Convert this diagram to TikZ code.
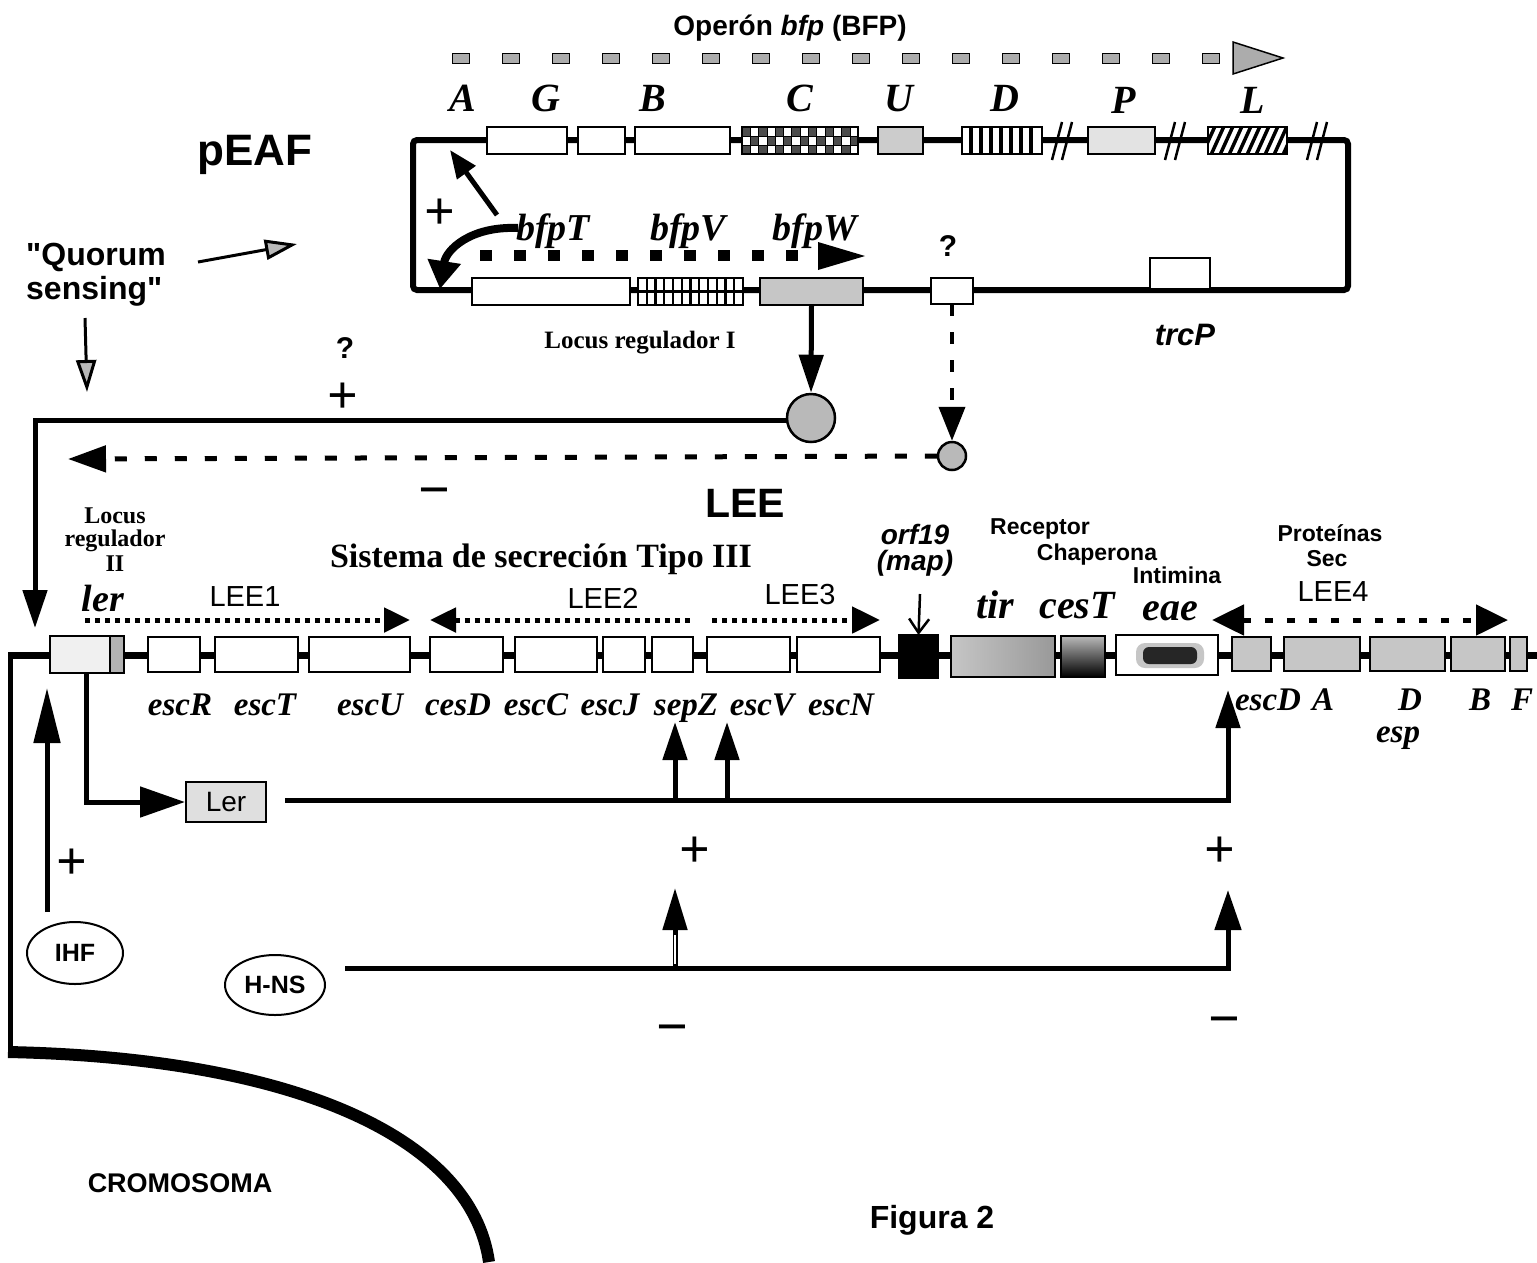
\documentclass[tikz,border=0pt]{standalone}
\usepackage{fontspec}
\setmainfont{Liberation Serif}
\setsansfont{Liberation Sans}
\usetikzlibrary{arrows.meta,shapes.geometric}
\newcommand{\myfs}[1]{\fontsize{#1}{#1}\selectfont}
\newcommand{\gbx}[6]{\node[gbox,#6,minimum width={(#3-#2)*1pt},minimum height={(#5-#4)*1pt}] (#1) at ({(#2+#3)/2},{(#4+#5)/2}) {};}
\tikzset{
  gbox/.style={draw, line width=2.5pt, fill=white, inner sep=0pt, outer sep=0pt},
  bh/.style={-{Triangle[length=38pt,width=24pt]}},
  gtop/.style={font=\myfs{40}\bfseries\itshape, inner sep=0pt, anchor=base},
  gbfp/.style={font=\myfs{38}\bfseries\itshape, inner sep=0pt, anchor=base},
  glow/.style={font=\myfs{33}\bfseries\itshape, inner sep=0pt, anchor=base},
  sblab/.style={font=\sffamily\bfseries\myfs{#1}, inner sep=0pt, anchor=base},
  srlab/.style={font=\sffamily\myfs{#1}, inner sep=0pt, anchor=base},
  rblab/.style={font=\bfseries\myfs{#1}, inner sep=0pt, anchor=base},
  plus/.style={font=\bfseries\myfs{54}, inner sep=0pt},
  minus/.style={font=\bfseries\myfs{56}, inner sep=0pt},
  dotln/.style={line width=5pt, dash pattern=on 5pt off 5pt},
  qh/.style={-{Triangle[length=32pt,width=20pt,fill=gray!55]}},
  regln/.style={line width=5pt},
}
\begin{document}
\begin{tikzpicture}[x=1pt,y=-1pt]
\useasboundingbox (0,0) rectangle (1537,1262);
\fill[white] (0,0) rectangle (1537,1262);

% ---------- title and top operon arrow
\node[sblab=28] (title) at (790,35) {Operón \textit{bfp} (BFP)};
\foreach \i in {0,...,15} \draw[fill=gray!65, line width=1pt] ({452+50*\i},53) rectangle ++(17,10);
\filldraw[fill=gray!65, line width=1.5pt] (1233,42) -- (1283,58) -- (1233,74) -- cycle;

% ---------- top gene letters
\node[gtop] (lA) at (463,111) {A};
\node[gtop] (lG) at (546,111) {G};
\node[gtop] (lB) at (653,111) {B};
\node[gtop] (lC) at (800,111) {C};
\node[gtop] (lU) at (899,111) {U};
\node[gtop] (lD) at (1005,111) {D};
\node[gtop] (lP) at (1124,113) {P};
\node[gtop] (lL) at (1253,113) {L};

% ---------- plasmid pEAF
\draw[line width=6pt, rounded corners=4pt] (413,140) rectangle (1348,290);
\foreach \x in {1060,1173,1315} {
  \draw[line width=2.5pt] (\x-8,160) -- (\x+2,122);
  \draw[line width=2.5pt] (\x+2,160) -- (\x+12,122);
}
\gbx{gA}{487}{567}{127}{154}{}
\gbx{gG}{578}{625}{127}{154}{}
\gbx{gB}{635}{730}{127}{154}{}
\gbx{gC}{742}{858}{127}{154}{}
\gbx{gU}{878}{923}{127}{154}{fill=gray!40}
\gbx{gD}{962}{1042}{127}{154}{}
\gbx{gP}{1088}{1155}{127}{154}{fill=gray!22}
\gbx{gL}{1208}{1287}{127}{154}{}
% checkered C
\begin{scope}
  \clip (gC.south west) rectangle (gC.north east);
  \foreach \j in {0,1,2} \foreach \i in {0,2,...,12}
    \fill[black!70] ({742+8.3*(\i+mod(\j,2))},{127+9*\j}) rectangle ++(8.3,9);
  \foreach \i in {1,...,13} \draw[line width=0.8pt] ({742+8.3*\i},127) -- ++(0,27);
  \draw[line width=0.8pt] (742,136) -- (858,136) (742,145) -- (858,145);
\end{scope}
\draw[line width=2.5pt] (gC.south west) rectangle (gC.north east);
% striped D
\foreach \x in {971,981,...,1035} \draw[line width=4pt] (\x,127) -- (\x,154);
\draw[line width=2.5pt] (gD.south west) rectangle (gD.north east);
% hatched L
\begin{scope}
  \clip (gL.south west) rectangle (gL.north east);
  \foreach \x in {1192,1201,...,1295} \draw[line width=3.5pt] (\x,157) -- (\x+15,124);
\end{scope}
\draw[line width=2.5pt] (gL.south west) rectangle (gL.north east);

% bottom row of the plasmid
\gbx{bT}{472}{630}{278}{305}{}
\gbx{bV}{638}{743}{278}{305}{}
\gbx{bW}{760}{863}{278}{305}{fill=gray!45}
\gbx{qb}{931}{973}{278}{304}{}
\gbx{trc}{1150}{1210}{258}{289}{}
\foreach \i in {1,...,11} \draw[line width=2.2pt] ({638+\i*105/12},278) -- ++(0,27);
\draw[line width=2.2pt] (638,291.5) -- (743,291.5);
\draw[line width=2.5pt] (bV.south west) rectangle (bV.north east);

\node[gbfp] (lbT) at (553,240) {bfpT};
\node[gbfp] (lbV) at (688,240) {bfpV};
\node[gbfp] (lbW) at (815,240) {bfpW};
\foreach \i in {0,...,9} \fill ({480+34*\i},250) rectangle ++(12,11);
\fill (818,242) -- (865,256) -- (818,270) -- cycle;

\node[plus] (p1) at (440,214) {+};
\draw[line width=5pt, -{Triangle[length=28pt,width=22pt]}] (497,215) -- (450,150);
\draw[line width=8pt, -{Triangle[length=28pt,width=32pt]}] (518,228) .. controls (470,226) and (446,250) .. (440,289);

\node[sblab=30] (q1) at (948,256) {?};
\node[rblab=25] (lr1) at (640,348) {Locus regulador I};
\node[font=\sffamily\bfseries\itshape\myfs{31}, inner sep=0pt, anchor=base] (ltrc) at (1185,345) {trcP};

% ---------- left labels
\node[sblab=44] (peaf) at (255,165) {pEAF};
\node[sblab=32, anchor=base west] (qs1) at (26,265) {\textquotedbl Quorum};
\node[sblab=32, anchor=base west] (qs2) at (26,299) {sensing\textquotedbl};
\coordinate (qa1) at (198,262);
\coordinate (qa2) at (297,244);
\coordinate (qb1) at (85,318);
\coordinate (qb2) at (87,392);
\draw[line width=3pt, qh] (qa1) -- (qa2);
\draw[line width=3pt, qh] (qb1) -- (qb2);

% ---------- regulators between plasmid and LEE
\node[circle, draw, line width=2.5pt, fill=gray!55, minimum size=48pt, inner sep=0pt] (bc) at (811,418) {};
\node[circle, draw, line width=2.5pt, fill=gray!55, minimum size=28pt, inner sep=0pt] (sc) at (952,456) {};
\draw[regln, bh] (bW.south) -- (bc.north);
\draw[line width=4pt, dash pattern=on 12pt off 16pt, -{Triangle[length=34pt,width=26pt]}] (qb.south) -- (sc.north);
\coordinate (lc) at (35,420);
\coordinate (lerin) at (35,628);
\draw[regln, bh] (bc.west |- lc) -- (lc) -- (lerin);
\coordinate (dl) at (68,459);
\draw[line width=5pt, dash pattern=on 12pt off 18pt, -{Triangle[length=38pt,width=26pt]}] (sc.west) -- (dl);
\node[sblab=30] (q2) at (345,358) {?};
\node[plus] (p2) at (343,398) {+};
\node[minus] (m1) at (434,498) {−};

\node[sblab=41] (lee) at (745,517) {LEE};

% ---------- chromosome
\draw[line width=7pt] (10,655) -- (1537,655);
\draw[line width=5pt] (10,652) -- (10,1052);
\draw[line width=12pt] (8,1052) .. controls (300,1058) and (472,1140) .. (489,1262);

% ---------- LEE genes
\gbx{ler}{50}{110}{636}{673}{fill=gray!12}
\gbx{lers}{110}{124}{636}{673}{fill=gray!60}
\gbx{escR}{148}{200}{637}{672}{}
\gbx{escT}{215}{298}{637}{672}{}
\gbx{escU}{309}{410}{637}{672}{}
\gbx{cesD}{430}{503}{637}{672}{}
\gbx{escC}{515}{597}{637}{672}{}
\gbx{escJ}{603}{645}{637}{672}{}
\gbx{sepZ}{652}{693}{637}{672}{}
\gbx{escV}{707}{790}{637}{672}{}
\gbx{escN}{797}{880}{637}{672}{}
\gbx{orf}{899}{938}{635}{678}{fill=black}
\gbx{tir}{951}{1055}{636}{677}{}
\gbx{cesT}{1061}{1105}{636}{677}{}
\gbx{eae}{1116}{1218}{635}{675}{}
\gbx{escD}{1232}{1271}{637}{671}{fill=gray!45}
\gbx{espA}{1284}{1360}{637}{671}{fill=gray!45}
\gbx{espD}{1370}{1445}{637}{671}{fill=gray!45}
\gbx{espB}{1451}{1505}{637}{671}{fill=gray!45}
\gbx{espF}{1510}{1527}{637}{671}{fill=gray!45}
\shade[left color=gray!45, middle color=white, right color=gray!80] (tir.south west) rectangle (tir.north east);
\draw[line width=2.5pt] (tir.south west) rectangle (tir.north east);
\shade[top color=gray!55, bottom color=black] (cesT.south west) rectangle (cesT.north east);
\draw[line width=2.5pt] (cesT.south west) rectangle (cesT.north east);
\fill[gray!45, rounded corners=9pt] (1136,643) rectangle (1204,668);
\fill[black!85, rounded corners=6pt] (1143,647) rectangle (1197,664);

% labels above the LEE
\node[rblab=24] (lr2a) at (115,523) {Locus};
\node[rblab=24] (lr2b) at (115,546) {regulador};
\node[rblab=24] (lr2c) at (115,571) {II};
\node[font=\myfs{38}\bfseries\itshape, inner sep=0pt, anchor=base] (lerl) at (103,611) {ler};
\node[rblab=34] (sis) at (541,567) {Sistema de secreción Tipo III};
\node[srlab=29] (lee1) at (245,606) {LEE1};
\node[srlab=29] (lee2) at (603,608) {LEE2};
\node[srlab=29] (lee3) at (800,604) {LEE3};
\node[srlab=29] (lee4) at (1333,601) {LEE4};
\node[font=\sffamily\bfseries\itshape\myfs{28}, inner sep=0pt, anchor=base] (orfl) at (915,544) {orf19};
\node[font=\sffamily\bfseries\itshape\myfs{28}, inner sep=0pt, anchor=base] (mapl) at (915,570) {(map)};
\node[sblab=23] (rec) at (1040,534) {Receptor};
\node[sblab=23] (cha) at (1097,560) {Chaperona};
\node[sblab=23] (inti) at (1177,583) {Intimina};
\node[sblab=23] (prot) at (1330,541) {Proteínas};
\node[sblab=23] (sec) at (1327,566) {Sec};
\node[font=\myfs{40}\bfseries\itshape, inner sep=0pt, anchor=base] (ltir) at (995,618) {tir};
\node[font=\myfs{40}\bfseries\itshape, inner sep=0pt, anchor=base] (lcesT) at (1077,618) {cesT};
\node[font=\myfs{40}\bfseries\itshape, inner sep=0pt, anchor=base] (leae) at (1170,620) {eae};

\draw[dotln, -{Triangle[length=26pt,width=24pt]}] (85,620) -- (410,620);
\draw[dotln, {Triangle[length=26pt,width=24pt]}-] (430,620) -- (690,620);
\draw[dotln, -{Triangle[length=28pt,width=26pt]}] (712,620) -- (880,620);
\draw[line width=5pt, dash pattern=on 8pt off 14pt, {Triangle[length=32pt,width=30pt]}-{Triangle[length=32pt,width=30pt]}] (1212,620) -- (1508,620);
\draw[line width=2.5pt, -{Straight Barb[length=14pt,width=20pt]}] (920,594) -- (orf.north);

% labels below the LEE
\node[glow] (tR) at (180,715) {escR};
\node[glow] (tT) at (265,715) {escT};
\node[glow] (tU) at (370,715) {escU};
\node[glow] (tcD) at (458,715) {cesD};
\node[glow] (tC) at (536,715) {escC};
\node[glow] (tJ) at (610,715) {escJ};
\node[glow] (tZ) at (686,715) {sepZ};
\node[glow] (tV) at (762,715) {escV};
\node[glow] (tN) at (841,715) {escN};
\node[glow] (tD) at (1268,710) {escD};
\node[glow] (tA) at (1323,710) {A};
\node[glow] (tDD) at (1410,710) {D};
\node[glow] (tB) at (1480,710) {B};
\node[glow] (tF) at (1522,710) {F};
\node[glow] (tesp) at (1398,742) {esp};

% ---------- regulation network
\node[draw, line width=2pt, fill=gray!25, minimum width=80pt, minimum height=40pt, inner sep=0pt, font=\sffamily\myfs{28}] (lerp) at (226,802) {Ler};
\coordinate (lerdown) at (86,802);
\draw[regln, -{Triangle[length=45pt,width=30pt]}] (ler.south -| lerdown) -- (lerdown) -- (lerp.west);
\coordinate (ls) at (285,800);
\coordinate (lc2) at (1228,800);
\coordinate (dtip) at (1228,690);
\draw[regln, bh] (ls) -- (lc2) -- (dtip);
\draw[regln, bh] (675,800) -- (675,722);
\draw[regln, bh] (727,800) -- (727,722);

\node[ellipse, draw, line width=2pt, minimum width=96pt, minimum height=62pt, inner sep=0pt, font=\sffamily\bfseries\myfs{25}] (ihf) at (75,953) {IHF};
\node[ellipse, draw, line width=2pt, minimum width=100pt, minimum height=60pt, inner sep=0pt, font=\sffamily\bfseries\myfs{25}] (hns) at (275,985) {H-NS};
\coordinate (ihfup) at (47,912);
\coordinate (ihftip) at (47,688);
\draw[regln, -{Triangle[length=55pt,width=26pt]}] (ihfup) -- (ihftip);
\coordinate (hs) at (345,968);
\coordinate (hc) at (1228,968);
\draw[regln, -{Triangle[length=40pt,width=26pt]}] (hs) -- (hc) -- (1228,890);
\draw[regln, -{Triangle[length=42pt,width=24pt]}] (675,968) -- (675,888);
\draw[white, line width=1.5pt] (675,964) -- (675,935);

\node[plus] (p3) at (72,864) {+};
\node[plus] (p4) at (695,852) {+};
\node[plus] (p5) at (1220,852) {+};
\node[minus] (m2) at (672,1035) {−};
\node[minus] (m3) at (1224,1027) {−};

\node[sblab=27] (crom) at (180,1192) {CROMOSOMA};
\node[sblab=32] (fig) at (932,1228) {Figura 2};
\end{tikzpicture}
\end{document}
